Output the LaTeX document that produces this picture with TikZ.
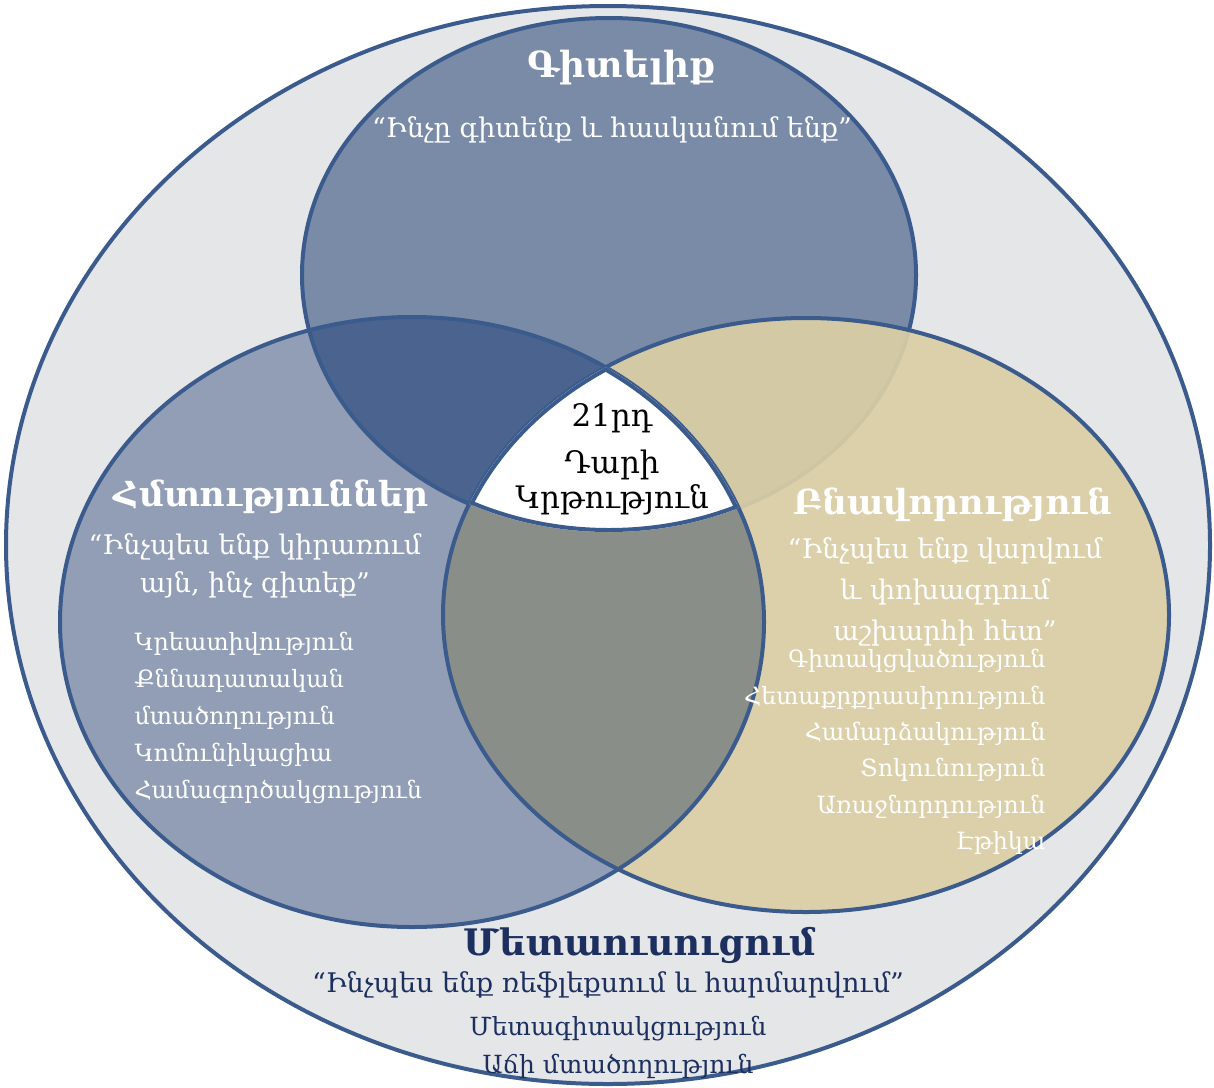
\documentclass[tikz,border=0pt]{standalone}
\usepackage{fontspec}
\setmainfont{DejaVu Serif}
\definecolor{rimblue}{HTML}{3B5B8C}
\definecolor{ringgray}{HTML}{E5E6E8}
\definecolor{knowblue}{HTML}{7A8BA8}
\definecolor{skillblue}{HTML}{929EB6}
\definecolor{deepblue}{HTML}{4A648F}
\definecolor{chartan}{HTML}{DBCFA5}
\definecolor{mixgray}{HTML}{8A8E88}
\definecolor{metanavy}{HTML}{1C2F5E}
\begin{document}
\begin{tikzpicture}
[x=1pt,y=-1pt,
  rimline/.style={draw=rimblue,line width=4pt},%
  headtext/.style={font=\bfseries\fontsize{34.5}{38}\selectfont,text=white},%
  quotetext/.style={font=\fontsize{27}{40}\selectfont,text=white,align=center},%
  listtext/.style={font=\fontsize{23.8}{37}\selectfont,text=white},%
  coretext/.style={font=\fontsize{31}{34}\selectfont,text=black}]
\useasboundingbox (0,0) rectangle (1214,1087);
\def\knowpath{(609,275) ellipse [x radius=307, y radius=257]}
\def\skillpath{(412,622) ellipse [x radius=352, y radius=305]}
\def\charpath{(806,615) ellipse [x radius=363, y radius=297]}
%% outer ring
\path[fill=ringgray,rimline] (608,545) ellipse [x radius=602, y radius=539];
%% three circles and their overlaps
\fill[knowblue] \knowpath;
\fill[skillblue] \skillpath;
\begin{scope}
  \clip \knowpath;
  \fill[deepblue] \skillpath;
\end{scope}
\draw[rimline] \knowpath;
\fill[chartan,opacity=0.92] \charpath;
\begin{scope}
  \clip \skillpath;
  \fill[mixgray] \charpath;
\end{scope}
\draw[rimline] \skillpath;
\draw[rimline] \charpath;
\begin{scope}
  \clip \knowpath;
  \clip \skillpath;
  \clip \charpath;
  \fill[white] \knowpath;
  \draw[rimblue,line width=8pt] \knowpath;
  \draw[rimblue,line width=8pt] \skillpath;
  \draw[rimblue,line width=8pt] \charpath;
\end{scope}
%% labels
\node (knowhead) at (622,68) [headtext,font=\bfseries\fontsize{36}{40}\selectfont] {Գիտելիք};
\node (knowquote) at (612,130) [quotetext] {“Ինչը գիտենք և հասկանում ենք”};
\node (skillhead) at (271,497) [headtext] {Հմտություններ};
\node (skillquote) at (255,566) [quotetext,font=\fontsize{27}{38}\selectfont] {“Ինչպես ենք կիրառում\\այն, ինչ գիտեք”};
\node (skilllist) at (131,718) [listtext,anchor=west,align=left]
  {Կրեատիվություն\\Քննադատական\\մտածողություն\\Կոմունիկացիա\\Համագործակցություն};
\node (charhead) at (953,505) [headtext] {Բնավորություն};
\node (charquote) at (945,592) [quotetext,font=\fontsize{27}{41}\selectfont] {“Ինչպես ենք վարվում\\և փոխազդում\\աշխարհի հետ”};
\node (charlist) at (1049,752) [listtext,anchor=east,align=right,font=\fontsize{23.8}{36.4}\selectfont]
  {Գիտակցվածություն\\Հետաքրքրասիրություն\\Համարձակություն\\Տոկունություն\\Առաջնորդություն\\Էթիկա};
\node (metahead) at (640,945) [headtext,text=metanavy,font=\bfseries\fontsize{36.5}{40}\selectfont] {Մետաուսուցում};
\node (metaquote) at (608,985) [quotetext,text=metanavy] {“Ինչպես ենք ռեֆլեքսում և հարմարվում”};
\node (metalist) at (618,1047) [listtext,text=metanavy,align=center,font=\fontsize{25}{38}\selectfont]
  {Մետագիտակցություն\\Աճի մտածողություն};
\node (coreyear) at (612,418) [coretext] {21րդ};
\node (corecent) at (612,465) [coretext] {Դարի};
\node (coreedu) at (612,500) [coretext] {Կրթություն};
\end{tikzpicture}
\end{document}
